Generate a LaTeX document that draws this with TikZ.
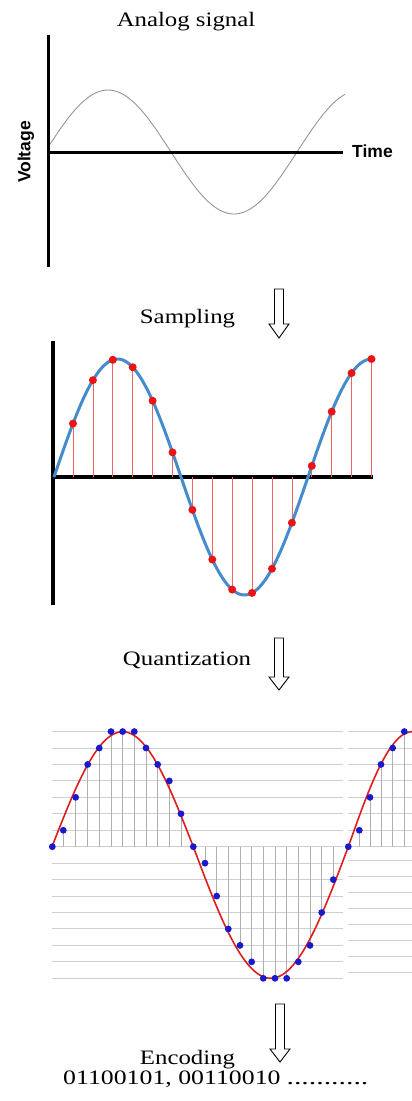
\documentclass[tikz,border=0pt]{standalone}
\usepackage{fontspec}
\usepackage{graphicx}
\setmainfont{Liberation Serif}[FakeStretch=1.21]
\newfontfamily\sansf{Liberation Sans}
\definecolor{anagray}{RGB}{150,150,150}
\definecolor{sampblue}{RGB}{70,140,205}
\definecolor{sampred}{RGB}{235,20,20}
\definecolor{stemred}{RGB}{240,100,100}
\definecolor{qgridc}{RGB}{208,208,208}
\definecolor{qstemc}{RGB}{175,175,175}
\definecolor{qred}{RGB}{222,30,30}
\definecolor{qblue}{RGB}{25,25,205}
\tikzset{
  axisline/.style={line width=3pt,black},
  lbl/.style={font=\fontsize{20.5}{22}\selectfont,inner sep=0pt,anchor=base},
  sanslbl/.style={font=\sansf\bfseries\fontsize{17.5}{19}\selectfont,inner sep=0pt},
  hollowarr/.style={draw=black,line width=0.9pt,fill=white,line join=miter},
  redstem/.style={stemred,line width=0.8pt},
  reddot/.style={fill=sampred},
  qgrid/.style={qgridc,line width=1pt},
  qstem/.style={qstemc,line width=0.8pt},
}
\newcommand{\hdarrow}[4]{%
  \draw[hollowarr] (#1-4.5,#2) -- (#1+4.5,#2) -- (#1+4.5,#3) -- (#1+10,#3) -- (#1,#4)
    -- (#1-10,#3) -- (#1-4.5,#3) -- cycle;}
\begin{document}
\begin{tikzpicture}[x=1pt,y=-1pt]
\useasboundingbox[fill=white] (0,0) rectangle (412,1101);

% ---------------- Panel 1: analog signal
\node[lbl] (tana) at (186,26) {Analog signal};
\draw[anagray,line width=0.9pt] plot[domain=48:345,samples=120,variable=\t]
  ({\t},{152-62*sin((\t-45)*1.428571)});
\draw[axisline] (48,35) -- (48,267);
\draw[axisline] (48,152) -- (343,152);
\node[sanslbl,anchor=base west] (ttime) at (352,157) {Time};
\node[sanslbl,anchor=base,rotate=90] (tvolt) at (30.5,152) {Voltage};

% ---------------- Panel 2: sampling
\node[lbl] (tsamp) at (187.5,323) {Sampling};
\hdarrow{279}{289}{324}{338}
\draw[axisline,line width=4pt] (53,341) -- (53,605);
\draw[axisline,line width=4pt] (53,477) -- (373,477);
\foreach \k in {0,...,15}{
  \pgfmathsetmacro\xx{73+19.9*\k}
  \pgfmathsetmacro\yy{477-118*sin((\xx-54)*1.417323)}
  \draw[redstem] (\xx,477) -- (\xx,\yy);
}
\draw[sampblue,line width=3pt] plot[domain=54:372,samples=150,variable=\t]
  ({\t},{477-118*sin((\t-54)*1.417323)});
\foreach \k in {0,...,15}{
  \pgfmathsetmacro\xx{73+19.9*\k}
  \pgfmathsetmacro\yy{477-118*sin((\xx-54)*1.417323)}
  \fill[reddot] (\xx,\yy) circle[radius=4pt];
}

% ---------------- Panel 3: quantization
\node[lbl] (tquant) at (187,665) {Quantization};
\hdarrow{279}{638}{677}{690}
\foreach \j in {-7,...,8}
  \draw[qgrid] (52,{846.7+16.45*\j}) -- (343,{846.7+16.45*\j});
\foreach \j in {-7,...,0}
  \draw[qgrid] (348,{846.7+16.45*\j}) -- (412,{846.7+16.45*\j});
\foreach \i in {0,...,7}
  \draw[qgrid] (348,{860+16*\i}) -- (412,{860+16*\i});
\def\qpts{52.3/0,63.3/1,75.7/3,87.7/5,99.3/6,111/7,122.7/7,134.3/7,146/6,157.7/5,169.3/4,181/2,193.3/0,205/-1,216.7/-3,228.3/-5,240/-6,251.7/-7,263.3/-8,275/-8,286.7/-8,298.3/-7,310/-6,321.7/-4,333.3/-2,348.3/0,359.3/1,370/3,381/5,392.7/6,404.3/7}
\foreach \xx/\l in \qpts
  \draw[qstem] (\xx,846.7) -- (\xx,{846.7-16.45*\l});
\draw[qred,line width=1.6pt] plot[domain=52:193.3,samples=60,variable=\t]
  ({\t},{846.7-115*sin((\t-52)*1.273885)})
  -- plot[domain=193.3:348.3,samples=60,variable=\t]
  ({\t},{846.7+131.6*sin((\t-193.3)*1.161290)})
  -- plot[domain=348.3:412,samples=30,variable=\t]
  ({\t},{846.7-115*sin((\t-348.3)*1.40625)});
\foreach \xx/\l in \qpts
  \fill[qblue] (\xx,{846.7-16.45*\l}) circle[radius=3.4pt];

% ---------------- Panel 4: encoding
\hdarrow{280}{1004}{1049}{1062}
\node[lbl] (tenc) at (187.5,1064) {Encoding};
\node[lbl,anchor=base west] (tcode) at (63,1084)
  {\scalebox{1.04}[1]{01100101, 00110010}\hspace{6pt}\scalebox{1.2}[1]{...........}};
\end{tikzpicture}
\end{document}
